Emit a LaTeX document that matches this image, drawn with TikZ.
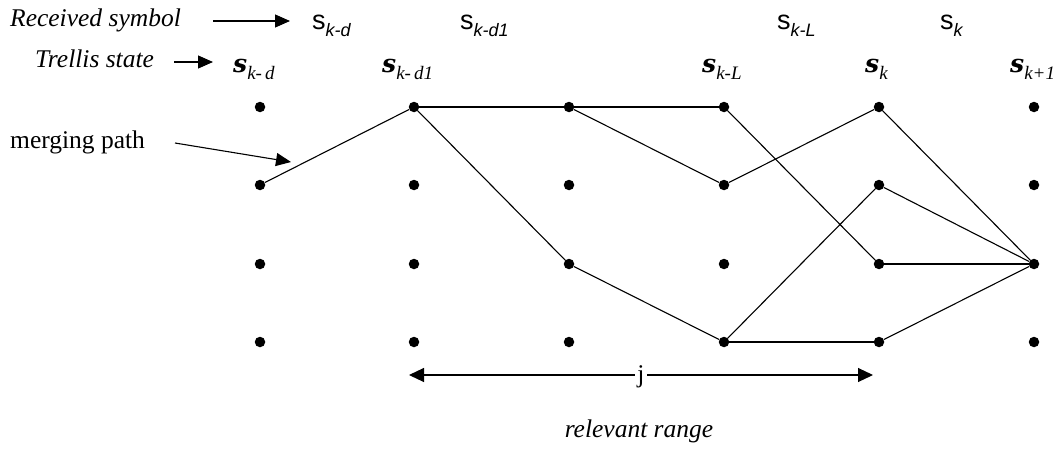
\documentclass[tikz,border=0pt]{standalone}
\usepackage{fontspec}
\setmainfont{Liberation Serif}
\newfontfamily\sansf{Liberation Sans}
\newfontfamily\statef{DejaVu Serif}
\usetikzlibrary{arrows.meta}

% received-symbol label: sans s with italic subscript
\newcommand\rsym[1]{{\sansf\fontsize{27}{30}\selectfont s\raisebox{-7pt}{\fontsize{18}{20}\selectfont\itshape #1}}}
% trellis-state label: bold italic serif s with italic subscript
\newcommand\tsym[1]{{\statef\fontsize{25}{30}\selectfont\bfseries\itshape s}\raisebox{-7pt}{\fontsize{19}{20}\selectfont\itshape #1}}

\tikzset{
  state/.style={circle,fill=black,inner sep=0pt,minimum size=10.5pt},
  edge/.style={line width=1.1pt},
  pointer/.style={line width=1.1pt,-{Triangle[length=15pt,width=13pt]}},
  span/.style={line width=1.1pt,{Triangle[length=15pt,width=14pt]}-{Triangle[length=15pt,width=14pt]}},
  lbl/.style={inner sep=0pt,anchor=base west},
  caption/.style={inner sep=0pt,font=\fontsize{25.5}{30}\selectfont},
  icaption/.style={inner sep=0pt,font=\fontsize{25.5}{30}\selectfont\itshape},
}

\begin{document}
\begin{tikzpicture}[x=1pt,y=-1pt]
\useasboundingbox (0,0) rectangle (1055,452);

% trellis nodes: columns 0..5, rows 0..3
\foreach \c/\x in {0/260,1/414,2/569,3/724,4/879,5/1034}{
  \foreach \r/\y in {0/107,1/185,2/264,3/342}{
    \node[state] (d\c\r) at (\x,\y) {};
  }
}

% branches of the trellis
\draw[edge] (d01) -- (d10);
\draw[edge] (d10) -- (d20);
\draw[edge] (d10) -- (d22);
\draw[edge] (d20) -- (d30);
\draw[edge] (d20) -- (d31);
\draw[edge] (d22) -- (d33);
\draw[edge] (d30) -- (d42);
\draw[edge] (d31) -- (d40);
\draw[edge] (d33) -- (d41);
\draw[edge] (d33) -- (d43);
\draw[edge] (d40) -- (d52);
\draw[edge] (d41) -- (d52);
\draw[edge] (d42) -- (d52);
\draw[edge] (d43) -- (d52);

% row captions
\node[icaption,anchor=base west] (rcv) at (10,27) {Received symbol};
\node[icaption,anchor=base west] (trl) at (35,68) {Trellis state};
\node[caption,anchor=base west] (mrg) at (10,148) {merging path};

\coordinate (rcvA) at (213,21);
\coordinate (rcvB) at (290,21);
\coordinate (trlA) at (174,62);
\coordinate (trlB) at (213,62);
\coordinate (mrgA) at (175,143);
\coordinate (mrgB) at (291,162);
\draw[pointer] (rcvA) -- (rcvB);
\draw[pointer] (trlA) -- (trlB);
\draw[pointer] (mrgA) -- (mrgB);

% received symbols
\node[lbl] (r1) at (312,30) {\rsym{k-d}};
\node[lbl] (r2) at (460,30) {\rsym{k-d1}};
\node[lbl] (r3) at (777,30) {\rsym{k-L}};
\node[lbl] (r4) at (940,30) {\rsym{k}};

% trellis states
\node[lbl] (t1) at (233,73) {\tsym{k-\,d}};
\node[lbl] (t2) at (382,73) {\tsym{k-\,d1}};
\node[lbl] (t3) at (702,73) {\tsym{k-L}};
\node[lbl] (t4) at (865,73) {\tsym{k}};
\node[lbl] (t5) at (1010,73) {\tsym{k+1}};

% relevant range
\coordinate (jl) at (409,375);
\coordinate (jr) at (873,375);
\draw[span] (jl) -- (jr);
\node[caption,fill=white,inner sep=2pt,anchor=base] (jlab) at (641,382) {j};
\node[icaption,anchor=base] (rng) at (639,437) {relevant range};
\end{tikzpicture}
\end{document}
